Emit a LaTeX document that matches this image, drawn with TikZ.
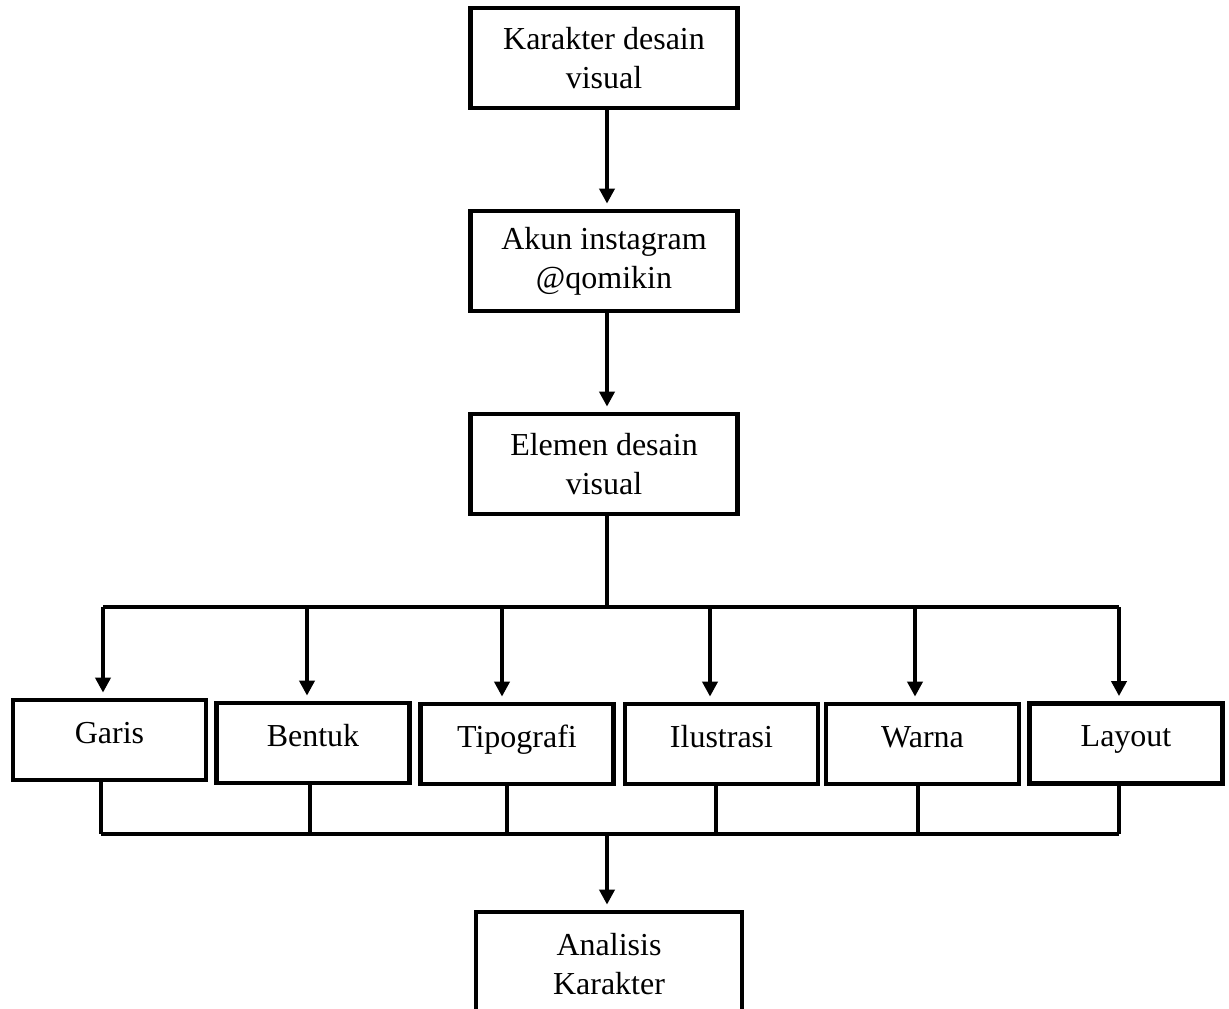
\documentclass[tikz,border=0pt]{standalone}
\usepackage{fontspec}
\setmainfont{Liberation Serif}
\usetikzlibrary{arrows.meta}
\begin{document}
\begin{tikzpicture}[x=0.5pt,y=-0.5pt,
  every node/.style={font=\fontsize{16}{19.5}\selectfont},
  bigbox/.style={draw,line width=2.4pt,minimum width=133.5pt,minimum height=50pt,align=center,inner sep=0pt},
  smallbox/.style={draw,line width=2.4pt,minimum width=96.5pt,inner xsep=0pt,inner ysep=0pt,text height=21.5pt,text depth=18.5pt},
  conn/.style={line width=2pt},
  arr/.style={line width=2pt,-{Triangle[width=7.5pt,length=7.5pt]},shorten >=2.5pt}]
\clip (0,0) rectangle (1229,1008);
\fill[white] (0,0) rectangle (1229,1008);
% main chain
\node[bigbox] (kd) at (604,58) {Karakter desain\\visual};
\node[bigbox] (ak) at (604,261) {Akun instagram\\@qomikin};
\node[bigbox] (el) at (604,464) {Elemen desain\\visual};
% row
\node[smallbox] (g) at (109.5,740) {Garis};
\node[smallbox] (b) at (313,743) {Bentuk};
\node[smallbox] (t) at (517,744) {Tipografi};
\node[smallbox] (i) at (721.5,744) {Ilustrasi};
\node[smallbox] (w) at (922.5,744) {Warna};
\node[smallbox] (l) at (1126,743.5) {Layout};
% result
\node[draw,line width=2.4pt,minimum width=133pt,minimum height=52pt,align=center,inner sep=0pt] (an) at (609,964) {Analisis\\Karakter};
% bar coordinates
\coordinate (top) at (607,607);
\coordinate (tg) at (103,607);
\coordinate (tb) at (307,607);
\coordinate (tt) at (502,607);
\coordinate (ti) at (710,607);
\coordinate (tw) at (915,607);
\coordinate (tl) at (1119,607);
\coordinate (bot) at (607,834);
\coordinate (bg) at (101,834);
\coordinate (bb) at (310,834);
\coordinate (bt) at (507,834);
\coordinate (bi) at (716,834);
\coordinate (bw) at (918,834);
\coordinate (bl) at (1119,834);
% connectors
\draw[arr] (kd.south -| top) -- (ak.north -| top);
\draw[arr] (ak.south -| top) -- (el.north -| top);
\draw[conn] (el.south -| top) -- (top);
\draw[conn] (tg) -- (tl);
\foreach \c/\n in {tg/g,tb/b,tt/t,ti/i,tw/w,tl/l}{
  \draw[arr] (\c) -- (\c |- \n.north);
}
\foreach \c/\n in {bg/g,bb/b,bt/t,bi/i,bw/w,bl/l}{
  \draw[conn] (\n.south -| \c) -- (\c);
}
\draw[conn] (bg) -- (bl);
\draw[arr] (bot) -- (bot |- an.north);
\end{tikzpicture}
\end{document}
